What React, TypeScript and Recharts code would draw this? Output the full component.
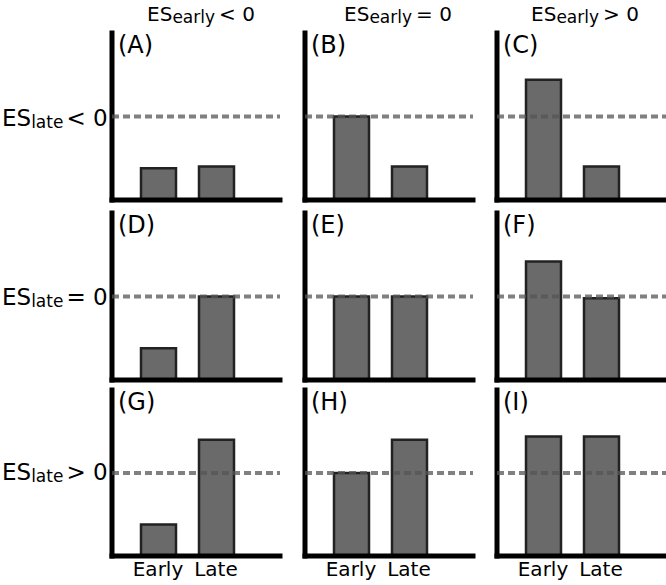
import { BarChart, Bar, XAxis, YAxis, ReferenceLine } from 'recharts';

const categories = ['Early', 'Late'];
const panelLabels = ['(A)', '(B)', '(C)', '(D)', '(E)', '(F)', '(G)', '(H)', '(I)'];
const earlyValues = [19, 50, 72, 19, 50, 71, 19, 50, 72];
const lateValues = [20, 20, 20, 50, 50, 49, 70, 70, 72];
const nullLevel = 50;
const columnSigns = ['<', '=', '>'];
const rowSigns = ['<', '=', '>'];

// layout, px
const colAxisX = [112, 305, 497];
const colPlotW = [168, 168, 170];
const rowTop = [33, 213, 390];
const rowBottom = [200, 380, 556];
const headerX = [201, 398, 585];
const rowLabelY = [126, 305, 480];

const FONT = '"DejaVu Sans", Verdana, sans-serif';
const M = 4;
const axisStyle = { stroke: '#000', strokeWidth: 5, strokeLinecap: 'square' as const };

function Panel({ i }: { i: number }) {
  const r = Math.floor(i / 3);
  const c = i % 3;
  const data = categories.map((cat, k) => ({ cat, value: k === 0 ? earlyValues[i] : lateValues[i] }));
  const plotH = rowBottom[r] - rowTop[r];
  const plotW = colPlotW[c];
  const isBottom = r === 2;
  const xH = isBottom ? 30 : M;
  const padL = 17;
  const band = 58;
  const padR = plotW - padL - 2 * band;
  const w = plotW + 2 * M;
  const h = plotH + M + xH;
  const pos = { position: 'absolute' as const, left: colAxisX[c] - M, top: rowTop[r] - M };

  return (
    <>
      <div style={pos}>
        <BarChart width={w} height={h} data={data} margin={{ top: M, right: M, bottom: 0, left: 0 }}>
          <XAxis
            dataKey="cat"
            height={xH}
            padding={{ left: padL, right: padR }}
            axisLine={axisStyle}
            tickLine={false}
            tick={isBottom ? { fill: '#000', fontSize: 20, fontFamily: FONT } : false}
            tickMargin={0}
          />
          <YAxis type="number" domain={[0, 100]} width={M} axisLine={axisStyle} tickLine={false} tick={false} />
          <Bar dataKey="value" fill="#6a6a6a" stroke="#222" strokeWidth={2.5} barSize={35} isAnimationActive={false} />
        </BarChart>
      </div>
      {/* dashed null line on its own layer so it sits over the bars */}
      <div style={pos}>
        <BarChart width={w} height={h} data={data} margin={{ top: M, right: M, bottom: xH, left: M }}>
          <XAxis dataKey="cat" hide />
          <YAxis type="number" domain={[0, 100]} hide />
          <Bar dataKey="value" fill="none" stroke="none" isAnimationActive={false} />
          <ReferenceLine y={nullLevel} stroke="#555" strokeOpacity={0.75} strokeWidth={4} strokeDasharray="7 4" />
        </BarChart>
      </div>
    </>
  );
}

export default function App() {
  return (
    <div
      style={{
        position: 'absolute',
        left: 0,
        top: 0,
        width: 666,
        height: 585,
        background: '#fff',
        overflow: 'hidden',
      }}
    >
      {panelLabels.map((_, i) => (
        <Panel key={i} i={i} />
      ))}
      <svg
        width={666}
        height={585}
        style={{ position: 'absolute', left: 0, top: 0, pointerEvents: 'none' }}
        fontFamily={FONT}
      >
        {columnSigns.map((s, c) => (
          <text key={'h' + c} x={headerX[c]} y={21} textAnchor="middle" fontSize={20} fill="#000">
            ES
            <tspan fontSize={17} dy={2}>early</tspan>
            <tspan fontSize={20} dy={-2} dx={4}>{s} 0</tspan>
          </text>
        ))}
        {rowSigns.map((s, r) => (
          <text key={'r' + r} x={2} y={rowLabelY[r]} fontSize={23} fill="#000">
            ES
            <tspan fontSize={17} dy={2}>late</tspan>
            <tspan fontSize={23} dy={-2} dx={3}>{s} 0</tspan>
          </text>
        ))}
        {panelLabels.map((lab, i) => (
          <text
            key={'p' + i}
            x={colAxisX[i % 3] + 6}
            y={rowTop[Math.floor(i / 3)] + 20}
            fontSize={24}
            fill="#000"
          >
            {lab}
          </text>
        ))}
      </svg>
    </div>
  );
}
